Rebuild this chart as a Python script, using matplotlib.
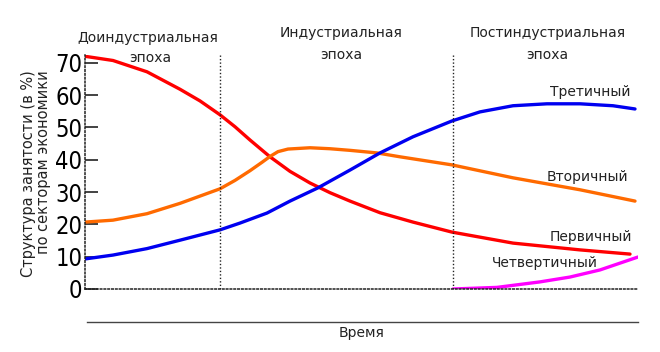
# employment structure by sector across epochs

import matplotlib
matplotlib.use('Agg')
import matplotlib.pyplot as plt
from matplotlib.lines import Line2D

# time in arbitrary units 0..553, values in %
t_primary = [0, 28, 62, 95, 115, 135, 150, 165, 185, 205, 225, 245, 265, 295, 328, 367, 428, 495, 545]
primary = [72.0, 70.7, 67.2, 61.8, 58.2, 53.9, 50.2, 46.1, 40.9, 36.4, 32.8, 29.8, 27.2, 23.6,
           20.7, 17.6, 14.2, 12.1, 10.8]

t_secondary = [0, 28, 62, 95, 135, 150, 165, 177, 185, 193, 203, 225, 245, 265, 292, 315, 367, 428, 495, 550]
secondary = [20.7, 21.3, 23.3, 26.5, 31.0, 33.6, 36.6, 39.2, 41.0, 42.5, 43.3, 43.7, 43.4, 42.9,
             42.1, 40.9, 38.4, 34.4, 30.7, 27.2]

t_tertiary = [0, 28, 62, 95, 135, 155, 182, 205, 233, 265, 295, 328, 367, 395, 428, 462, 495, 528, 550]
tertiary = [9.3, 10.5, 12.5, 15.1, 18.3, 20.4, 23.5, 27.2, 31.3, 36.8, 42.1, 47.1, 52.0, 54.8,
            56.7, 57.3, 57.3, 56.7, 55.7]

t_quaternary = [368, 412, 455, 485, 515, 553]
quaternary = [0, 0.5, 2.2, 3.7, 5.9, 9.9]

epoch_bounds = [135, 368]
yticks = [0, 10, 20, 30, 40, 50, 60, 70]

W, H = 660, 352


def fx(px):
    return px / W


def fy(py):
    return 1 - py / H


fig = plt.figure(figsize=(6.6, 3.52), dpi=100)
ax = fig.add_axes([fx(85), fy(289), fx(638) - fx(85), fy(55) - fy(289)])

style = dict(lw=2.4, solid_capstyle='round', solid_joinstyle='round')
ax.plot(t_primary, primary, color='#ff0000', **style)
ax.plot(t_secondary, secondary, color='#ff6a00', **style)
ax.plot(t_tertiary, tertiary, color='#0000f0', **style)
ax.plot(t_quaternary, quaternary, color='#ff00ff', **style)

for b in epoch_bounds:
    ax.axvline(b, color='#222222', lw=1.0, ls=(0, (1, 1.5)))

ax.set_xlim(0, 553)
ax.set_ylim(0, 72.4)
ax.set_xticks([])
ax.set_yticks(yticks)
ax.set_yticklabels([str(v) for v in yticks], family='DejaVu Sans', stretch='condensed',
                   fontsize=17)
ax.tick_params(axis='y', direction='in', length=9, width=1.2, color='#222222', pad=2)

for s in ['top', 'right']:
    ax.spines[s].set_visible(False)
for s in ['left', 'bottom']:
    ax.spines[s].set_linestyle((0, (1, 1.5)))
    ax.spines[s].set_linewidth(1.1)
    ax.spines[s].set_color('#222222')

# series labels
lab = dict(fontsize=10, color='#222222', va='center')
ax.text(545, 61.0, 'Третичный', ha='right', **lab)
ax.text(543, 34.7, 'Вторичный', ha='right', **lab)
ax.text(547, 16.1, 'Первичный', ha='right', **lab)
ax.text(407, 8.0, 'Четвертичный', ha='left', **lab)

# epoch titles
ep = dict(fontsize=10, color='#222222', ha='center', va='center')
fig.text(fx(148), fy(38), 'Доиндустриальная', **ep)
fig.text(fx(150), fy(58), 'эпоха', **ep)
fig.text(fx(341), fy(33), 'Индустриальная', **ep)
fig.text(fx(341), fy(55), 'эпоха', **ep)
fig.text(fx(548), fy(33), 'Постиндустриальная', **ep)
fig.text(fx(547), fy(55), 'эпоха', **ep)

# y label, two lines aligned at the top
yl = dict(fontsize=10.5, color='#222222', rotation=90, ha='center', va='top')
fig.text(fx(29), fy(70), 'Структура занятости (в %)', **yl)
fig.text(fx(44), fy(70), 'по секторам экономики', **yl)

# time axis line below the plot
fig.add_artist(Line2D([fx(87), fx(638)], [fy(322), fy(322)], color='#444444', lw=1.0))
fig.text(fx(362), fy(333), 'Время', fontsize=10, color='#222222', ha='center', va='center')

fig.savefig('out.png', dpi=100)
